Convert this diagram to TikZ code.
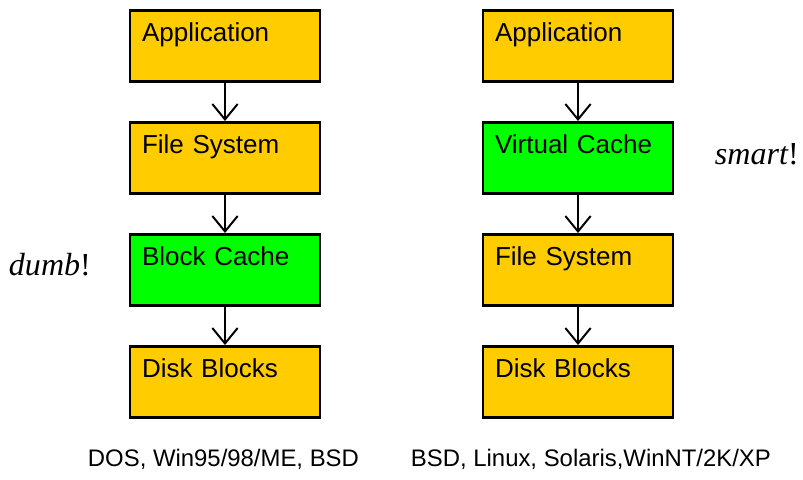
\documentclass[tikz,border=0pt]{standalone}
\usepackage{fontspec}
\setmainfont{Liberation Sans}
\newfontfamily\timesfont{Liberation Serif}
\usepackage{tikz}
\usepackage{xcolor}
\usetikzlibrary{positioning,arrows.meta}
\definecolor{layergold}{RGB}{255,204,0}
\definecolor{cachegreen}{RGB}{0,255,0}

\tikzset{
    layer/.style={draw, line width=2pt, fill=layergold, text width=4.15cm,
        inner xsep=0.3cm, inner ysep=0pt, text height=0.78cm, text depth=1cm,
        align=left, font=\fontsize{18.5}{22}\selectfont},
    cache/.style={layer, fill=cachegreen},
    flow/.style={line width=1.4pt, -{Straight Barb[length=11pt,width=18pt,line width=1.4pt]}},
    remark/.style={anchor=base west, font=\timesfont\fontsize{22.8}{26}\selectfont},
    oslist/.style={anchor=base west, font=\fontsize{17}{20}\selectfont}
}

\begin{document}
\begin{tikzpicture}
    \useasboundingbox (0,0) rectangle (20.075,-11.975);

    % Buffer cache below the file system
    \node[layer] (app1) at (5.625,-1.15) {Application};
    \node[layer, below=0.95cm of app1] (fs1) {File System};
    \node[cache, below=0.95cm of fs1] (bc1) {Block Cache};
    \node[layer, below=0.95cm of bc1] (disk1) {Disk Blocks};

    % Cache above the file system
    \node[layer] (app2) at (14.45,-1.15) {Application};
    \node[cache, below=0.95cm of app2] (vc2) {Virtual Cache};
    \node[layer, below=0.95cm of vc2] (fs2) {File System};
    \node[layer, below=0.95cm of fs2] (disk2) {Disk Blocks};

    % Arrows
    \draw[flow] (app1) -- (fs1);
    \draw[flow] (fs1) -- (bc1);
    \draw[flow] (bc1) -- (disk1);
    \draw[flow] (app2) -- (vc2);
    \draw[flow] (vc2) -- (fs2);
    \draw[flow] (fs2) -- (disk2);

    % Remarks
    \node[remark] (dumb) at (0.1,-6.875) {\itshape dumb\upshape !};
    \node[remark] (smart) at (17.75,-4.1) {\itshape smart\upshape !};

    % Systems
    \node[oslist] (os1) at (2.075,-11.65) {DOS, Win95/98/ME, BSD};
    \node[oslist] (os2) at (10.15,-11.65) {BSD, Linux, Solaris,WinNT/2K/XP};
\end{tikzpicture}
\end{document}
